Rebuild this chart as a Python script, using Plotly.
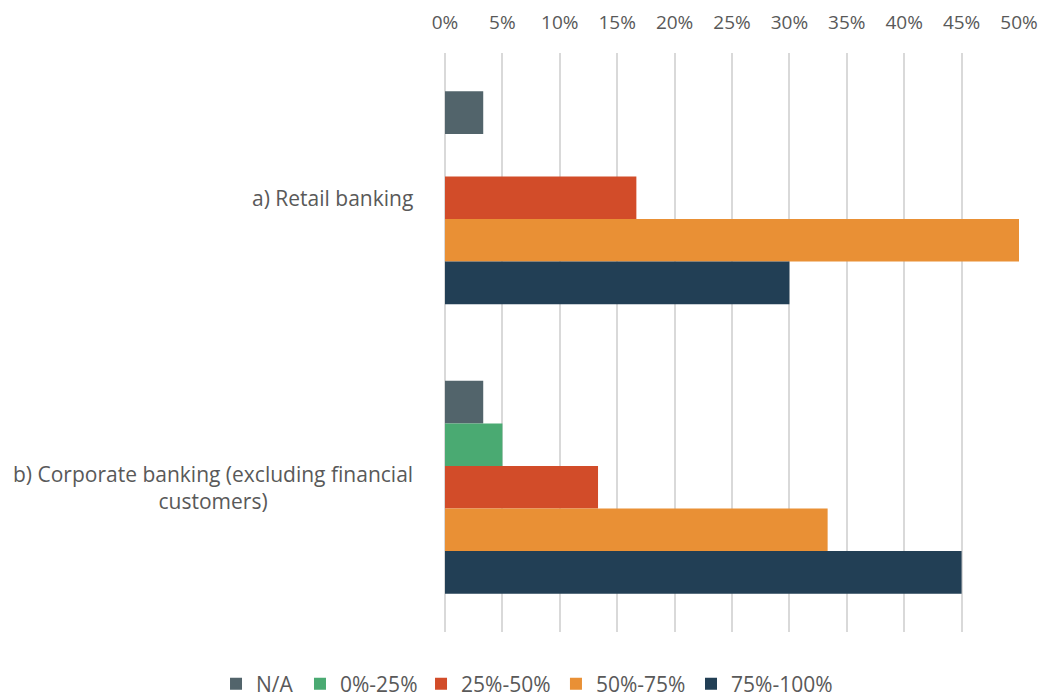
import plotly.graph_objects as go

categories = ["a) Retail banking", "b) Corporate banking (excluding financial<br>customers)"]
series_names = ["N/A", "0%-25%", "25%-50%", "50%-75%", "75%-100%"]
values = {
    "N/A": [3.33, 3.33],
    "0%-25%": [0, 5.0],
    "25%-50%": [16.67, 13.33],
    "50%-75%": [50.0, 33.33],
    "75%-100%": [30.0, 45.0],
}
colors = {
    "N/A": "#52646B",
    "0%-25%": "#4AAA72",
    "25%-50%": "#D24C29",
    "50%-75%": "#E99035",
    "75%-100%": "#223F55",
}
tick_vals = [0, 5, 10, 15, 20, 25, 30, 35, 40, 45, 50]
tick_text = ["0%", "5%", "10%", "15%", "20%", "25%", "30%", "35%", "40%", "45%", "50%"]

FONT = "Open Sans"
GREY = "#595959"

# one single-item legend per series, placed side by side along the bottom
legend_ids = ["legend", "legend2", "legend3", "legend4", "legend5"]
legend_x = [0.2004, 0.2813, 0.3979, 0.5279, 0.6580]

fig = go.Figure()
for name, lid in zip(series_names, legend_ids):
    fig.add_trace(go.Bar(
        y=categories, x=values[name], name=name, orientation="h",
        marker=dict(color=colors[name], line=dict(width=0)),
        hoverinfo="x+name", legend=lid,
    ))

for cat in categories:
    fig.add_annotation(
        x=0, xref="paper", y=cat, yref="y", text=cat,
        xanchor="right", yanchor="middle", align="center",
        xshift=-30, showarrow=False,
        font=dict(family=FONT, size=21, color=GREY),
    )

legend_layout = {}
for lid, lx in zip(legend_ids, legend_x):
    legend_layout[lid] = dict(
        orientation="h", xref="container", x=lx, xanchor="left",
        yref="container", y=0.0217, yanchor="middle",
        font=dict(family=FONT, size=21, color=GREY),
        itemwidth=30, bgcolor="rgba(0,0,0,0)",
    )

fig.update_layout(
    width=1038, height=691,
    margin=dict(l=437, r=27, t=45, b=67),
    paper_bgcolor="white", plot_bgcolor="white",
    barmode="group", bargap=0.265, bargroupgap=0,
    font=dict(family=FONT, size=20, color=GREY),
    xaxis=dict(
        side="top", range=[0, 50], tickvals=tick_vals, ticktext=tick_text,
        showgrid=True, gridcolor="#D9D9D9", gridwidth=2,
        zeroline=True, zerolinecolor="#D9D9D9", zerolinewidth=2,
        showline=False, ticks="outside", ticklen=15, tickcolor="rgba(0,0,0,0)",
        tickfont=dict(family=FONT, size=19, color=GREY), fixedrange=True,
        automargin=False,
    ),
    yaxis=dict(
        autorange="reversed", showticklabels=False, showgrid=False,
        zeroline=False, showline=False, fixedrange=True, automargin=False,
    ),
    showlegend=True,
    **legend_layout,
)

fig.write_html("out.html")
